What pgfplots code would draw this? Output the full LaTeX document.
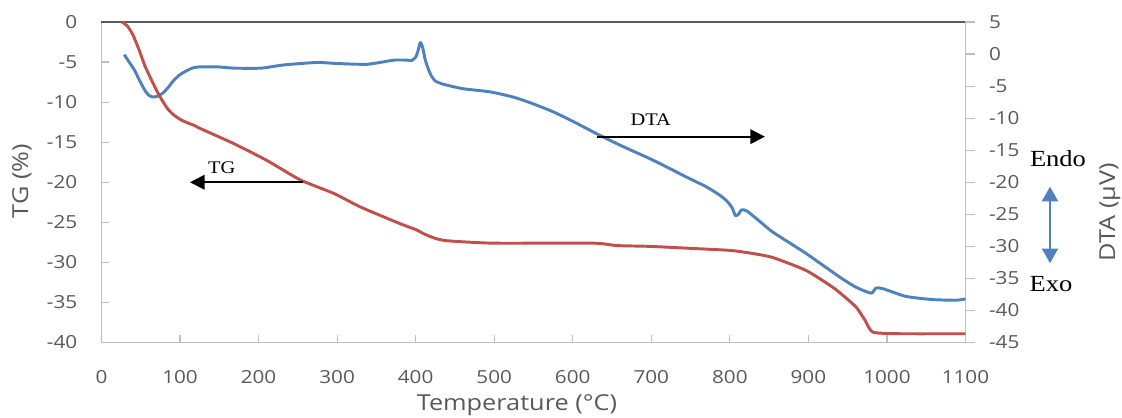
\documentclass[border=0pt]{standalone}
\usepackage{fontspec}
\usepackage{pgfplots}
\pgfplotsset{compat=1.18}
\usetikzlibrary{arrows.meta}
\newfontfamily\ticksans{Open Sans}[FakeStretch=1.15]
\newfontfamily\noteserif{Liberation Serif}[FakeStretch=1.15]
\definecolor{tgred}{HTML}{C0504D}
\definecolor{dtablue}{HTML}{4F81BD}
\definecolor{axgray}{HTML}{BFBFBF}
\definecolor{labgray}{HTML}{595959}

\begin{document}
\begin{tikzpicture}
\pgfplotsset{
  common/.style={
    scale only axis, width=648pt, height=240.4pt,
    xmin=0, xmax=1100,
    axis line style={axgray, line width=0.9pt, -},
    tick style={axgray, line width=0.9pt},
    ticklabel style={font=\ticksans\fontsize{13.5}{16}\selectfont, text=labgray},
    /pgf/number format/assume math mode=true,
    /pgf/number format/1000 sep={},
    clip=false,
  }
}

% DTA on the right axis
\begin{axis}[common,
  ymin=-45, ymax=5,
  axis x line=none, axis y line*=right,
  ytick distance=5,
  tick align=outside, major tick length=7pt,
  yticklabel style={anchor=west, inner sep=0pt, xshift=10.5pt},
]
\addplot[dtablue, line width=2.2pt, line join=round, smooth, tension=0.35] coordinates {
  (29,-0.1) (35,-1.2) (42,-2.5) (48,-4.0) (55,-5.6) (60,-6.4) (65,-6.7)
  (71,-6.6) (78,-6.1) (85,-5.2) (92,-4.1) (100,-3.2) (110,-2.5) (118,-2.1)
  (126,-2.0) (148,-2.0) (169,-2.2) (203,-2.2) (232,-1.7) (275,-1.3)
  (296,-1.45) (338,-1.6) (372,-0.95) (389,-0.95) (395,-1.0) (400,-0.5)
  (403,0.5) (406,1.8) (409,1.0) (412,-0.8) (416,-2.3) (420,-3.4)
  (425,-4.2) (435,-4.7) (460,-5.4) (495,-5.9) (524,-6.7) (546,-7.6)
  (575,-9.0) (605,-10.8) (630,-12.4) (660,-14.2) (703,-16.6) (745,-19.2)
  (770,-20.7) (787,-22.0) (796,-22.9) (803,-24.0) (807,-25.2) (811,-25.0)
  (815,-24.3) (822,-24.5) (840,-26.3) (855,-27.8) (897,-31.1) (940,-34.8)
  (961,-36.4) (980,-37.3) (986,-36.5) (995,-36.6) (1024,-37.8) (1058,-38.3)
  (1088,-38.4) (1100,-38.2)
};
\end{axis}

% TG on the left axis
\begin{axis}[common,
  ymin=-40, ymax=0,
  axis x line*=bottom, axis y line*=left,
  xtick distance=100, ytick distance=5,
  tick align=inside, major tick length=6pt,
  xticklabel style={anchor=base, inner sep=0pt, yshift=-30.4pt},
  yticklabel style={anchor=east, inner sep=0pt, xshift=-18pt},
]
\draw[labgray, line width=1.2pt] (rel axis cs:0,1) -- (rel axis cs:1,1);
\addplot[tgred, line width=2.2pt, line join=round, smooth, tension=0.35] coordinates {
  (26,0) (33,-0.5) (40,-1.6) (48,-3.5) (55,-5.4) (63,-7.1) (71,-8.7)
  (78,-9.9) (84,-10.8) (92,-11.6) (101,-12.2) (110,-12.6) (118,-12.9)
  (126,-13.3) (169,-15.2) (211,-17.3) (253,-19.7) (296,-21.4) (330,-23.1)
  (381,-25.2) (400,-25.9) (412,-26.5) (425,-27.0) (440,-27.3) (499,-27.6)
  (626,-27.6) (656,-27.9) (698,-28.0) (740,-28.2) (800,-28.5) (830,-28.9)
  (855,-29.4) (897,-31.0) (931,-33.1) (945,-34.2) (961,-35.6) (972,-37.2)
  (982,-38.7) (1016,-38.9) (1100,-38.9)
};
\end{axis}

% annotations
\draw[black, line width=1.3pt, -{Triangle[width=11pt,length=11pt]}]
  (151.3pt,120.2pt) -- (66.4pt,120.2pt);
\node[font=\noteserif\fontsize{13.3}{16}\selectfont, anchor=base] at (90.2pt,126.9pt) {TG};
\draw[black, line width=1.3pt, -{Triangle[width=11pt,length=11pt]}]
  (371.4pt,154.4pt) -- (497.6pt,154.4pt);
\node[font=\noteserif\fontsize{13.3}{16}\selectfont, anchor=base] at (412pt,162.4pt) {DTA};
\node[font=\noteserif\fontsize{17.3}{20}\selectfont, anchor=base] at (717.4pt,131.9pt) {Endo};
\node[font=\noteserif\fontsize{17.3}{20}\selectfont, anchor=base] at (712.1pt,38.1pt) {Exo};
\draw[dtablue, line width=1.5pt,
  {Triangle[width=12pt,length=11pt]}-{Triangle[width=12pt,length=11pt]}]
  (711.4pt,116.9pt) -- (711.4pt,59.5pt);

% axis titles
\node[rotate=90, font=\ticksans\fontsize{16.5}{19}\selectfont, text=labgray] at (-59.6pt,121.1pt) {TG (\%)};
\node[rotate=90, font=\ticksans\fontsize{16.5}{19}\selectfont, text=labgray] at (756.4pt,97.9pt) {DTA (μV)};
\node[font=\ticksans\fontsize{16.5}{19}\selectfont, text=labgray] at (311.6pt,-46.9pt) {Temperature (°C)};

\pgfresetboundingbox
\path[use as bounding box] (-76.1pt,-55.9pt) rectangle (765.4pt,256.9pt);
\end{tikzpicture}
\end{document}
